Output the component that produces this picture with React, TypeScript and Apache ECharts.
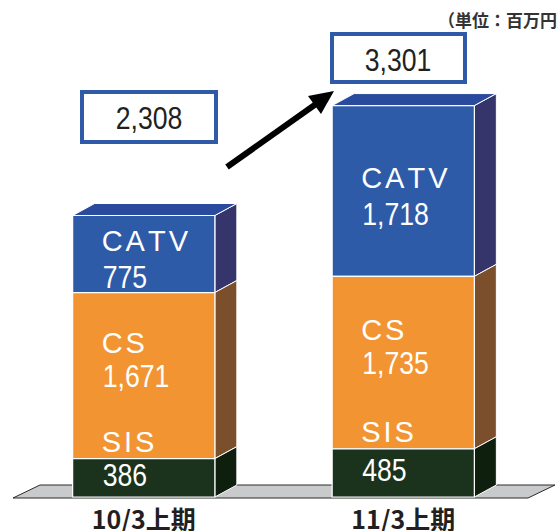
import React, { useEffect, useRef } from 'react';
import * as echarts from 'echarts';

const categories = ['10/3上期', '11/3上期'];
const sisValues = [386, 485];
const csValues = [1671, 1735];
const catvValues = [775, 1718];
const totals = [2308, 3301];
const unitText = '（単位：百万円）';

const DX = 22;
const DY = 12;
const COLORS: Record<string, { front: string; side: string; top: string }> = {
  SIS: { front: '#1b331c', side: '#0f1f0e', top: '#16291a' },
  CS: { front: '#f39432', side: '#7b4f2c', top: '#e0862a' },
  CATV: { front: '#2d5ba8', side: '#35346b', top: '#2a4b9d' },
};
const NUM_FONT = "'Liberation Sans', Arial, sans-serif";
const NAME_SIZE = 29;
const LETTER_GAP = 3;
// Arial-compatible advance widths (em) for the letters used in segment names
const ADV: Record<string, number> = { C: 0.722, A: 0.667, T: 0.611, V: 0.667, S: 0.667, I: 0.278 };
const fmt = (v: number) => v.toLocaleString('en-US');

function letterTexts(name: string, x0: number, y: number) {
  const out: any[] = [];
  let x = x0;
  for (const ch of name.split('')) {
    out.push({
      type: 'text',
      x,
      y,
      style: {
        text: ch,
        x: 0,
        y: 0,
        fill: '#ffffff',
        fontSize: NAME_SIZE,
        fontFamily: NUM_FONT,
        align: 'left',
        verticalAlign: 'middle',
      },
    });
    x += (ADV[ch] || 0.6) * NAME_SIZE + LETTER_GAP;
  }
  return out;
}

function makeSeries(name: string, vals: number[], bases: number[], isTop: boolean) {
  return {
    type: 'custom',
    name,
    data: vals.map((v, i) => [i, bases[i], bases[i] + v, v]),
    renderItem: (params: any, api: any) => {
      const c = api.value(0);
      const b = api.value(1);
      const t = api.value(2);
      const v = api.value(3);
      const p0 = api.coord([c, b]);
      const p1 = api.coord([c, t]);
      const w = api.size([1, 0])[0] * 0.548;
      const left = p0[0] - w / 2;
      const right = left + w;
      const yb = p0[1];
      const yt = p1[1];
      const col = COLORS[name];
      const children: any[] = [
        {
          type: 'polygon',
          shape: { points: [[right, yb], [right + DX, yb - DY], [right + DX, yt - DY], [right, yt]] },
          style: { fill: col.side, stroke: '#ffffff', lineWidth: 1 },
        },
        {
          type: 'rect',
          shape: { x: left, y: yt, width: w, height: yb - yt },
          style: { fill: col.front, stroke: '#ffffff', lineWidth: 1.2 },
        },
      ];
      if (isTop) {
        children.push({
          type: 'polygon',
          shape: { points: [[left, yt], [left + DX, yt - DY], [right + DX, yt - DY], [right, yt]] },
          style: { fill: col.top, stroke: '#ffffff', lineWidth: 1 },
        });
      }
      const mid = (yb + yt) / 2;
      let nameY: number;
      let valY: number;
      if (name === 'SIS') {
        nameY = yt - 17;
        valY = mid - 3;
      } else if (name === 'CS') {
        nameY = mid - 33;
        valY = mid + 1;
      } else {
        nameY = mid - 13;
        valY = mid + 23;
      }
      children.push(...letterTexts(name, left + 29, nameY));
      children.push({
        type: 'text',
        x: left + 30,
        y: valY,
        scaleX: 0.86,
        style: {
          text: fmt(v),
          x: 0,
          y: 0,
          fill: '#ffffff',
          fontSize: 31,
          fontFamily: NUM_FONT,
          align: 'left',
          verticalAlign: 'middle',
        },
      });
      return { type: 'group', children };
    },
  };
}

export default function App() {
  const ref = useRef<HTMLDivElement>(null);
  useEffect(() => {
    if (!ref.current) return;
    const chart = echarts.init(ref.current, null, { renderer: 'svg' });
    const sisBase = sisValues.map(() => 0);
    const csBase = sisValues.map((v) => v);
    const catvBase = sisValues.map((v, i) => v + csValues[i]);

    const floorSeries = {
      type: 'custom',
      name: 'floor',
      data: [[0, 0]],
      silent: true,
      renderItem: (params: any, api: any) => {
        const cs = params.coordSys;
        const y0 = cs.y + cs.height + 1;
        return {
          type: 'polygon',
          shape: {
            points: [
              [cs.x - 1, y0],
              [cs.x + cs.width - 5, y0],
              [cs.x + cs.width + 22, y0 - 13],
              [cs.x + 26, y0 - 13],
            ],
          },
          style: { fill: '#c9cacc', stroke: '#2a2a2a', lineWidth: 1 },
        };
      },
    };

    chart.setOption({
      animation: false,
      backgroundColor: '#ffffff',
      grid: { left: 14, right: 25, top: 0, bottom: 34 },
      xAxis: {
        type: 'category',
        data: categories,
        axisLine: { show: false },
        axisTick: { show: false },
        axisLabel: {
          margin: 8,
          fontSize: 25,
          fontWeight: 'bold',
          color: '#231f20',
          fontFamily: "'Noto Sans CJK JP', sans-serif",
        },
      },
      yAxis: {
        type: 'value',
        min: 0,
        max: 5000,
        show: false,
        splitLine: { show: false },
      },
      series: [
        floorSeries,
        makeSeries('CATV', catvValues, catvBase, true),
        makeSeries('CS', csValues, csBase, false),
        makeSeries('SIS', sisValues, sisBase, false),
      ],
      graphic: [
        {
          type: 'text',
          x: 438,
          y: 19,
          style: {
            text: unitText,
            x: 0,
            y: 0,
            fill: '#333333',
            fontSize: 17,
            fontWeight: 'bold',
            fontFamily: "'Noto Sans CJK JP', sans-serif",
            align: 'left',
            verticalAlign: 'middle',
          },
        },
        {
          type: 'rect',
          shape: { x: 82, y: 92, width: 134, height: 50 },
          style: { fill: '#ffffff', stroke: '#2e5aa8', lineWidth: 4 },
        },
        {
          type: 'text',
          x: 149,
          y: 118,
          scaleX: 0.86,
          style: {
            text: fmt(totals[0]),
            x: 0,
            y: 0,
            fill: '#231f20',
            fontSize: 31,
            fontFamily: NUM_FONT,
            align: 'center',
            verticalAlign: 'middle',
          },
        },
        {
          type: 'rect',
          shape: { x: 332, y: 34, width: 133, height: 48 },
          style: { fill: '#ffffff', stroke: '#2e5aa8', lineWidth: 4 },
        },
        {
          type: 'text',
          x: 398,
          y: 60,
          scaleX: 0.86,
          style: {
            text: fmt(totals[1]),
            x: 0,
            y: 0,
            fill: '#231f20',
            fontSize: 31,
            fontFamily: NUM_FONT,
            align: 'center',
            verticalAlign: 'middle',
          },
        },
        {
          type: 'line',
          shape: { x1: 227, y1: 167, x2: 316, y2: 104 },
          style: { stroke: '#000000', lineWidth: 6 },
        },
        {
          type: 'polygon',
          shape: { points: [[334, 91], [321, 114], [308, 96]] },
          style: { fill: '#000000' },
        },
      ],
    });
    return () => chart.dispose();
  }, []);
  return (
    <div
      ref={ref}
      style={{ position: 'fixed', left: 0, top: 0, width: 558, height: 531, background: '#fff' }}
    />
  );
}
